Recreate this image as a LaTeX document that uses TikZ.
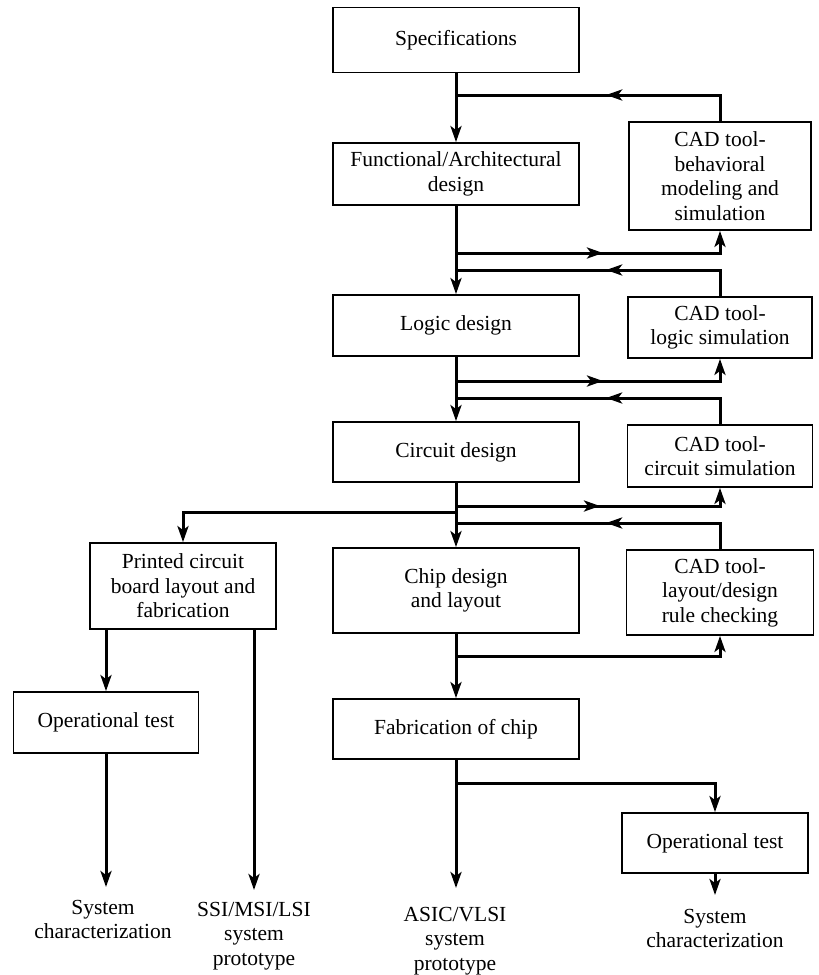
\documentclass[tikz,border=0pt]{standalone}
\usepackage{fontspec}
\setmainfont{Liberation Serif}
\usetikzlibrary{arrows.meta,decorations.markings}
\begin{document}
\begin{tikzpicture}[x=1pt,y=-1pt,
  box/.style={draw,line width=1.8pt,align=center,inner sep=2pt,font=\fontsize{21.5}{24.5}\selectfont},
  lbl/.style={align=center,inner sep=0pt,anchor=north,font=\fontsize{21.5}{24.5}\selectfont},
  conn/.style={line width=3pt},
  arr/.style={conn,-{Stealth[length=16pt,width=11pt,inset=4pt]}},
  midarr/.style={postaction={decorate},decoration={markings,mark=at position #1 with {\arrow{Stealth[length=16pt,width=11pt,inset=4pt]}}}}
]
\useasboundingbox (0,0) rectangle (819,975);

% main column
\node[box,minimum width=246pt,minimum height=65pt] (spec) at (456,40) {Specifications};
\node[box,minimum width=246pt,minimum height=62pt] (func) at (456,174) {Functional/Architectural\\design};
\node[box,minimum width=246pt,minimum height=61pt] (logic) at (456,325.5) {Logic design};
\node[box,minimum width=246pt,minimum height=60pt] (circ) at (456,452) {Circuit design};
\node[box,minimum width=246pt,minimum height=85pt] (chip) at (456,590.5) {Chip design\\and layout};
\node[box,minimum width=246pt,minimum height=60pt] (fab) at (456,729) {Fabrication of chip};

% CAD column
\node[box,minimum width=182pt,minimum height=108pt] (cad1) at (720,176) {CAD tool-\\behavioral\\modeling and\\simulation};
\node[box,minimum width=184pt,minimum height=61pt] (cad2) at (720,327.5) {CAD tool-\\logic simulation};
\node[box,minimum width=185pt,minimum height=62pt] (cad3) at (720,456) {CAD tool-\\circuit simulation};
\node[box,minimum width=187pt,minimum height=85pt] (cad4) at (720,592.5) {CAD tool-\\layout/design\\rule checking};

% left column
\node[box,minimum width=186pt,minimum height=86pt] (pcb) at (183,586) {Printed circuit\\board layout and\\fabrication};
\node[box,minimum width=185pt,minimum height=61pt] (op1) at (106,722.5) {Operational test};
\node[box,minimum width=186pt,minimum height=60pt] (op2) at (715,843) {Operational test};

% outputs
\node[lbl] (sc1) at (103,900) {System\\characterization};
\node[lbl] (ssi) at (254,902) {SSI/MSI/LSI\\system\\prototype};
\node[lbl] (asic) at (455,907) {ASIC/VLSI\\system\\prototype};
\node[lbl] (sc2) at (715,909) {System\\characterization};

% junction coordinates on main line
\coordinate (fb1) at (456,95);
\coordinate (fw1) at (456,253);
\coordinate (fb2) at (456,270);
\coordinate (fw2) at (456,381);
\coordinate (fb3) at (456,398);
\coordinate (fw3) at (456,506);
\coordinate (br1) at (456,512);
\coordinate (fb4) at (456,523);
\coordinate (fw4) at (456,656);
\coordinate (br2) at (456,783);

% main flow
\draw[arr] (spec.south) -- (func.north);
\draw[arr] (func.south) -- (logic.north);
\draw[arr] (logic.south) -- (circ.north);
\draw[arr] (circ.south) -- (chip.north);
\draw[arr] (chip.south) -- (fab.north);
\draw[arr] (fab.south) -- ([yshift=19pt]fab.south |- asic.north);

% CAD loops
\draw[conn,midarr=140pt] (cad1.north) |- (fb1);
\draw[arr,midarr=147pt] (fw1) -| (cad1.south);
\draw[conn,midarr=140pt] (cad2.north) |- (fb2);
\draw[arr,midarr=147pt] (fw2) -| (cad2.south);
\draw[conn,midarr=140pt] (cad3.north) |- (fb3);
\draw[arr,midarr=144pt] (fw3) -| (cad3.south);
\draw[conn,midarr=140pt] (cad4.north) |- (fb4);
\draw[arr] (fw4) -| (cad4.south);

% branches
\draw[arr] (br1) -| (pcb.north);
\draw[arr] (br2) -| (op2.north);
\draw[arr] (pcb.south -| op1.north) -- (op1.north);
\draw[arr] (pcb.south -| ssi.north) -- ([yshift=12pt]ssi.north);
\draw[arr] (op1.south) -- ([yshift=13pt]op1.south |- sc1.north);
\draw[arr] (op2.south) -- ([yshift=14pt]op2.south |- sc2.north);
\end{tikzpicture}
\end{document}
